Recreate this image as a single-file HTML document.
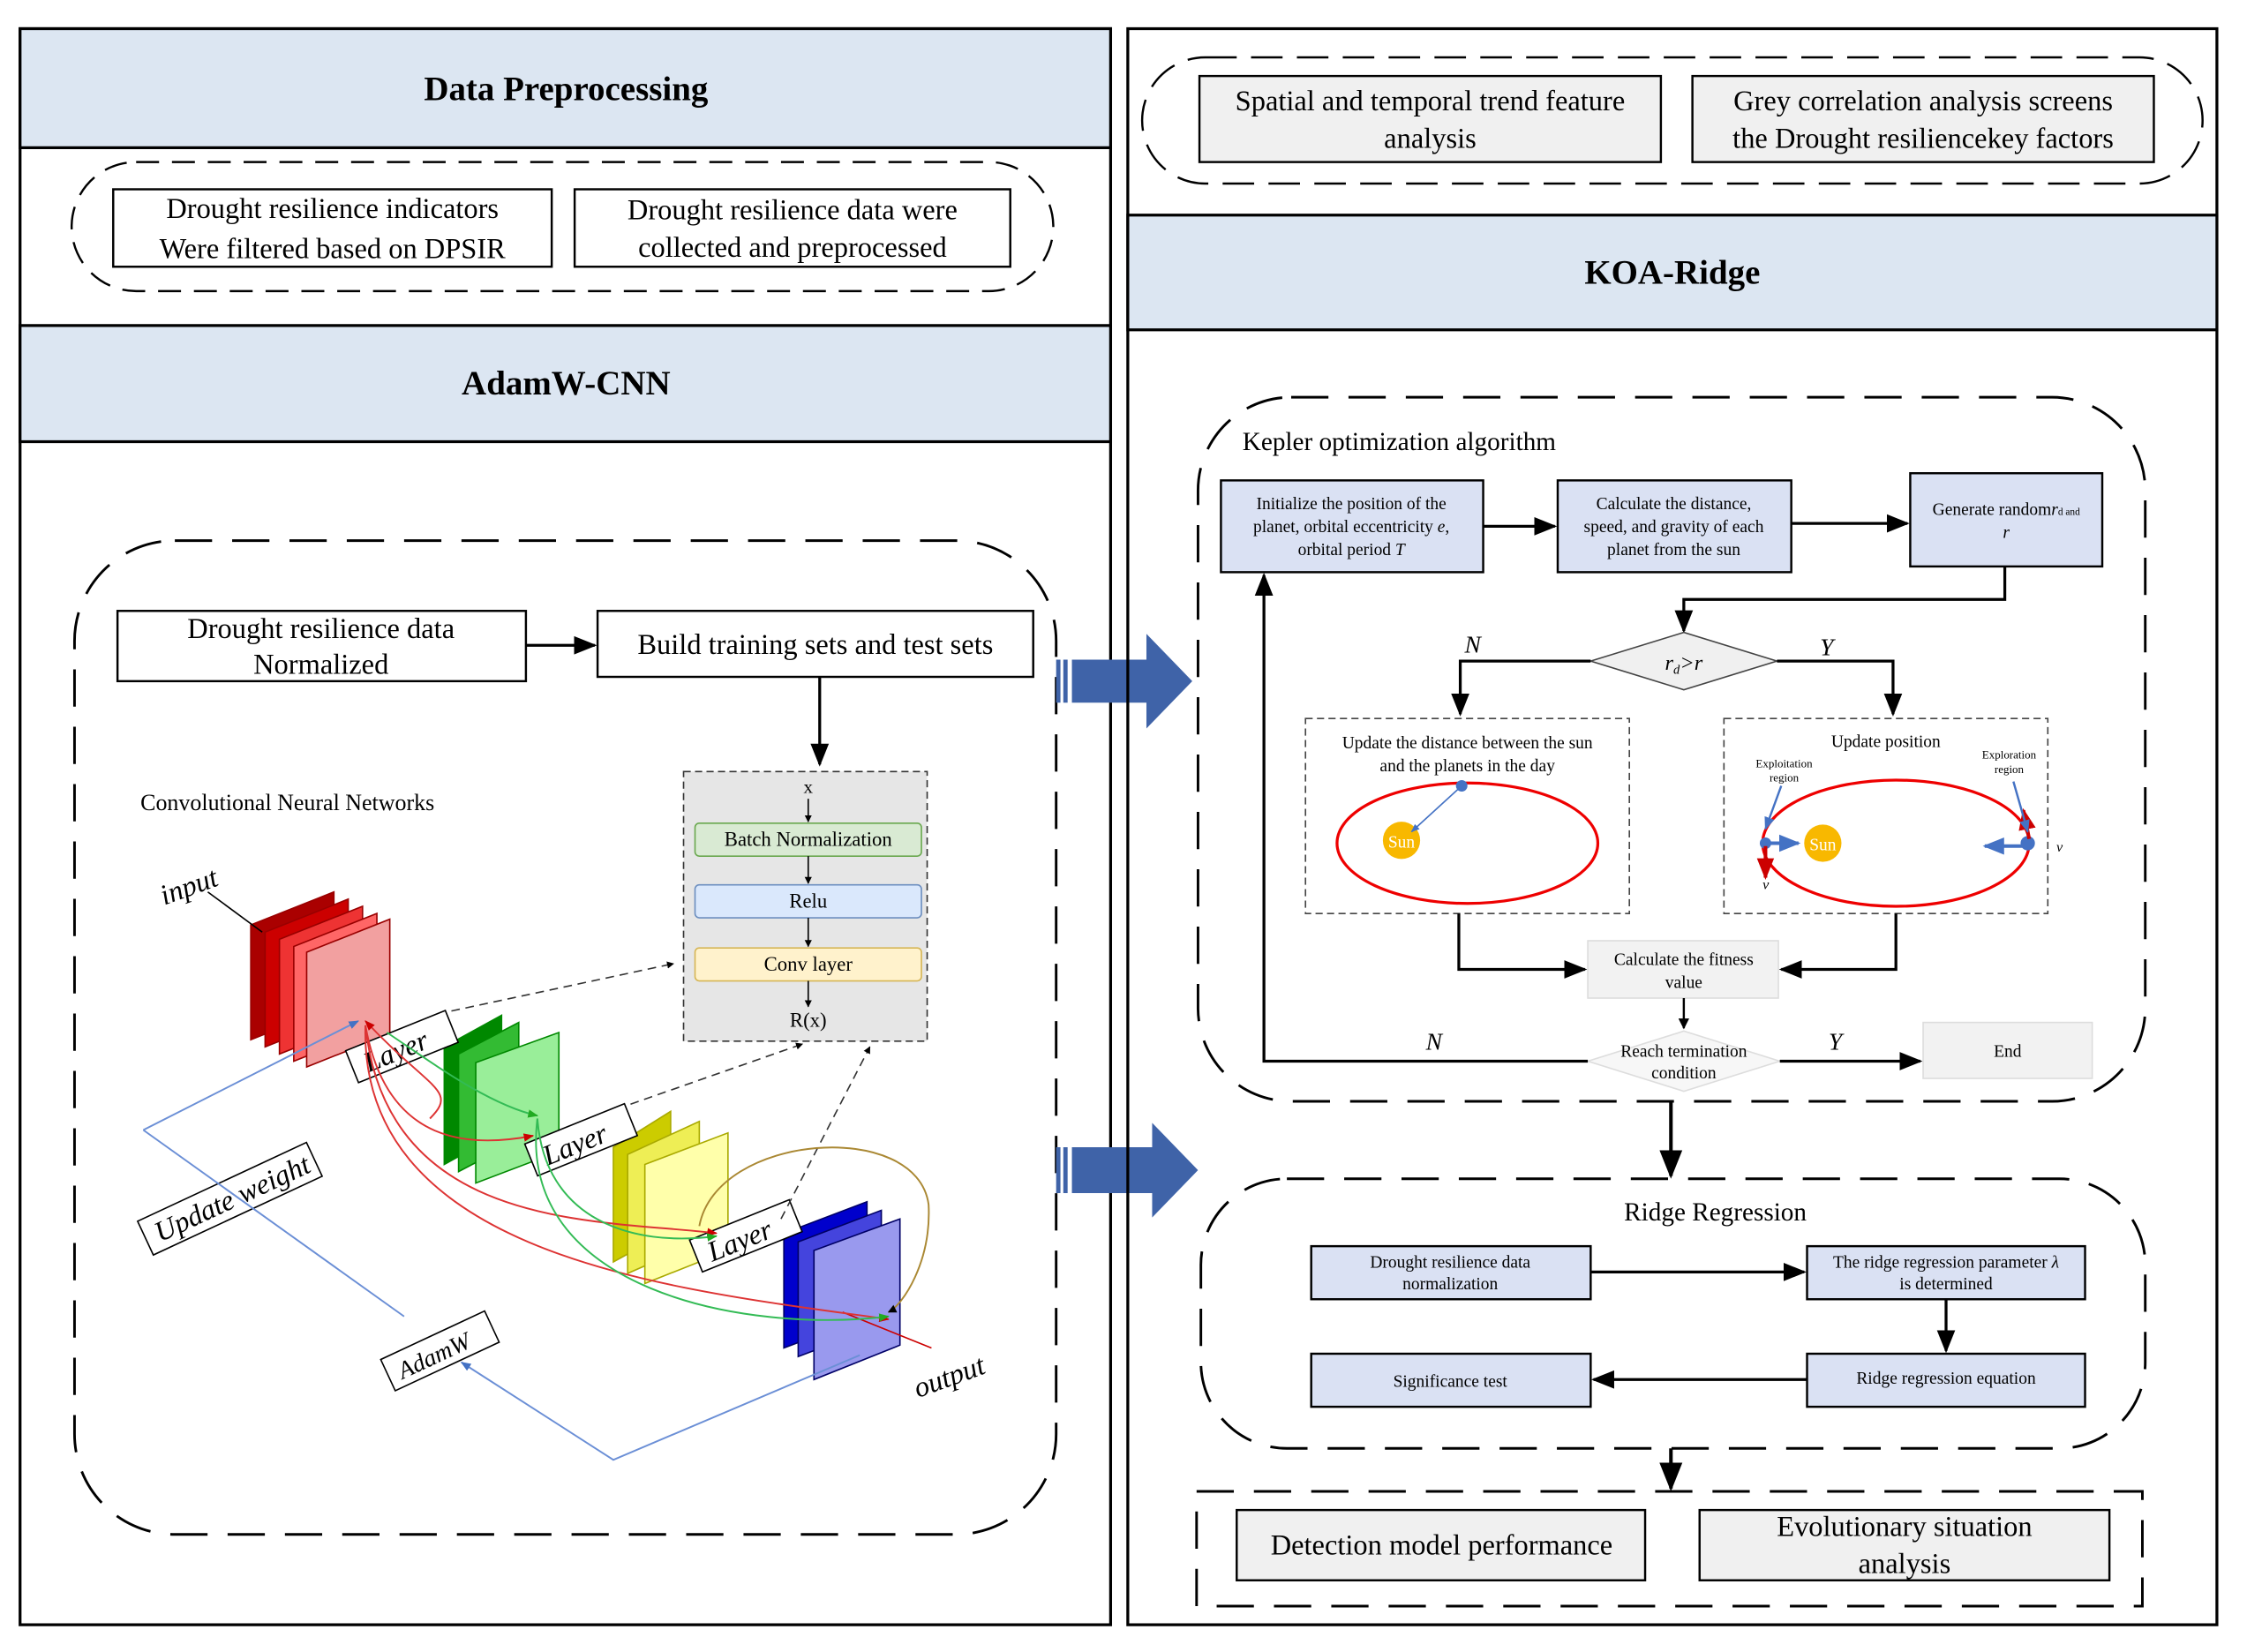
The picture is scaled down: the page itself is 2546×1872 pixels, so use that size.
<!DOCTYPE html>
<html><head><meta charset="utf-8"><style>
html,body{margin:0;padding:0;background:#fff}
svg{display:block}
text{font-family:"Liberation Serif",serif;fill:#000}
</style></head><body>
<svg width="2546" height="1872" viewBox="0 0 1568 1152" preserveAspectRatio="none" xmlns="http://www.w3.org/2000/svg">
<defs>
<marker id="a" viewBox="0 0 10 10" refX="9" refY="5" markerWidth="5" markerHeight="5" orient="auto"><path d="M0,0L10,5L0,10z" fill="#000"/></marker>
<marker id="s" viewBox="0 0 10 10" refX="9" refY="5" markerWidth="8" markerHeight="8" orient="auto"><path d="M0,1L10,5L0,9z" fill="#000"/></marker>
<marker id="bl" viewBox="0 0 10 10" refX="9" refY="5" markerWidth="6" markerHeight="6" orient="auto"><path d="M0,1L10,5L0,9z" fill="#4472c4"/></marker>
<marker id="rd" viewBox="0 0 10 10" refX="9" refY="5" markerWidth="6" markerHeight="6" orient="auto"><path d="M0,1L10,5L0,9z" fill="#c00"/></marker>
<marker id="gr" viewBox="0 0 10 10" refX="9" refY="5" markerWidth="6" markerHeight="6" orient="auto"><path d="M0,1L10,5L0,9z" fill="#2a2"/></marker>
</defs>
<!-- LEFT PANEL -->
<rect x="14" y="20" width="761" height="1113" fill="#fff" stroke="#000" stroke-width="2"/>
<rect x="14" y="20" width="761" height="83" fill="#dce6f2" stroke="#000" stroke-width="2"/>
<text x="395" y="70" font-size="24" font-weight="bold" text-anchor="middle">Data Preprocessing</text>
<rect x="14" y="227" width="761" height="81" fill="#dce6f2" stroke="#000" stroke-width="2"/>
<text x="395" y="275" font-size="24" font-weight="bold" text-anchor="middle">AdamW-CNN</text>
<rect x="50" y="113" width="685" height="90" rx="45" fill="none" stroke="#000" stroke-width="1.5" stroke-dasharray="16,9"/>
<rect x="79" y="132" width="306" height="54" fill="#fff" stroke="#000" stroke-width="1.5"/>
<text x="232" y="152" font-size="20" text-anchor="middle">Drought resilience indicators</text>
<text x="232" y="180" font-size="20" text-anchor="middle">Were filtered based on DPSIR</text>
<rect x="401" y="132" width="304" height="54" fill="#fff" stroke="#000" stroke-width="1.5"/>
<text x="553" y="153" font-size="20" text-anchor="middle">Drought resilience data were</text>
<text x="553" y="179" font-size="20" text-anchor="middle">collected and preprocessed</text>
<rect x="52" y="377" width="685" height="693" rx="70" fill="none" stroke="#000" stroke-width="1.8" stroke-dasharray="26,14"/>
<rect x="82" y="426" width="285" height="49" fill="#fff" stroke="#000" stroke-width="1.5"/>
<text x="224" y="445" font-size="20" text-anchor="middle">Drought resilience data</text>
<text x="224" y="470" font-size="20" text-anchor="middle">Normalized</text>
<line x1="367" y1="450" x2="415" y2="450" stroke="#000" stroke-width="2" marker-end="url(#s)"/>
<rect x="417" y="426" width="304" height="46" fill="#fff" stroke="#000" stroke-width="1.5"/>
<text x="569" y="456" font-size="20" text-anchor="middle">Build training sets and test sets</text>
<line x1="572" y1="472" x2="572" y2="533" stroke="#000" stroke-width="2" marker-end="url(#s)"/>
<text x="98" y="565" font-size="16">Convolutional Neural Networks</text>
<rect x="477" y="538" width="170" height="188" fill="#e6e6e6" stroke="#333" stroke-dasharray="5,3"/>
<text x="564" y="553" font-size="13" text-anchor="middle">x</text>
<line x1="564" y1="557" x2="564" y2="573" stroke="#000" marker-end="url(#a)"/>
<rect x="485" y="574" width="158" height="23" rx="3" fill="#d9ead3" stroke="#6aa84f"/>
<text x="564" y="590" font-size="14" text-anchor="middle">Batch Normalization</text>
<line x1="564" y1="597" x2="564" y2="616" stroke="#000" marker-end="url(#a)"/>
<rect x="485" y="617" width="158" height="23" rx="3" fill="#dae8fc" stroke="#6c8ebf"/>
<text x="564" y="633" font-size="14" text-anchor="middle">Relu</text>
<line x1="564" y1="640" x2="564" y2="660" stroke="#000" marker-end="url(#a)"/>
<rect x="485" y="661" width="158" height="23" rx="3" fill="#fff2cc" stroke="#d6b656"/>
<text x="564" y="677" font-size="14" text-anchor="middle">Conv layer</text>
<line x1="564" y1="684" x2="564" y2="702" stroke="#000" marker-end="url(#a)"/>
<text x="564" y="716" font-size="14" text-anchor="middle">R(x)</text>
<!-- CNN blocks -->
<g stroke="#900" stroke-width="1">
<polygon points="175,645 233,622 233,702 175,725" fill="#a00"/>
<polygon points="185,650 243,627 243,707 185,730" fill="#c00"/>
<polygon points="195,655 253,632 253,712 195,735" fill="#e33"/>
<polygon points="205,660 263,637 263,717 205,740" fill="#f66"/>
<polygon points="214,664 272,641 272,721 214,744" fill="#f2a0a0"/>
</g>
<g stroke="#080">
<polygon points="310,730 350,708 350,790 310,812" fill="#080"/>
<polygon points="320,735 362,713 362,795 320,817" fill="#3b3"/>
<polygon points="332,741 390,720 390,803 332,825" fill="#9e9"/>
</g>
<g stroke="#aa0">
<polygon points="428,800 468,775 468,858 428,880" fill="#cc0"/>
<polygon points="438,805 488,782 488,866 438,888" fill="#ee5"/>
<polygon points="450,812 508,790 508,872 450,895" fill="#ffa"/>
</g>
<g stroke="#006">
<polygon points="547,860 605,838 605,918 547,940" fill="#00c"/>
<polygon points="557,866 615,844 615,924 557,946" fill="#44d"/>
<polygon points="568,872 628,850 628,938 568,962" fill="#99e"/>
</g>
<line x1="145" y1="622" x2="183" y2="650" stroke="#000"/>
<text x="110" y="625" font-size="20" font-style="italic" transform="rotate(-20 130 615)">input</text>
<line x1="588" y1="915" x2="650" y2="940" stroke="#c00"/>
<text x="635" y="967" font-size="20" font-style="italic" transform="rotate(-20 660 955)">output</text>
<g font-size="20" font-style="italic">
<g transform="rotate(-22 280 730)"><rect x="243" y="718" width="75" height="24" fill="#fff" stroke="#000"/><text x="252" y="738">Layer</text></g>
<g transform="rotate(-22 405 795)"><rect x="368" y="783" width="75" height="24" fill="#fff" stroke="#000"/><text x="377" y="803">Layer</text></g>
<g transform="rotate(-22 520 862)"><rect x="483" y="850" width="75" height="24" fill="#fff" stroke="#000"/><text x="492" y="870">Layer</text></g>
<g transform="rotate(-25 160 835)"><rect x="95" y="823" width="130" height="26" fill="#fff" stroke="#000"/><text x="103" y="843">Update weight</text></g>
<g transform="rotate(-25 307 942)"><rect x="267" y="930" width="80" height="24" fill="#fff" stroke="#000"/><text x="275" y="949" font-size="17">AdamW</text></g>
</g>
<g fill="none" stroke-dasharray="6,4" stroke="#333" marker-end="url(#a)">
<path d="M315,705 L470,672"/><path d="M440,770 L560,728"/><path d="M545,850 L607,730"/>
</g>
<g fill="none" stroke="#6b8fd6" stroke-width="1.2">
<path d="M100,788 L250,712" marker-end="url(#bl)"/>
<path d="M100,788 L282,918"/>
<path d="M600,945 L428,1018 L322,950" marker-end="url(#bl)"/>
</g>
<g fill="none" stroke="#d33" stroke-width="1.2">
<path d="M255,715 C270,800 330,800 372,792" marker-end="url(#rd)"/>
<path d="M255,715 C270,860 420,850 500,860" marker-end="url(#rd)"/>
<path d="M255,715 C250,880 480,900 620,920" marker-end="url(#rd)"/>
<path d="M300,780 C320,760 300,760 255,712" marker-end="url(#rd)"/>
</g>
<g fill="none" stroke="#3b5" stroke-width="1.2">
<path d="M375,780 C380,850 440,870 500,862" marker-end="url(#gr)"/>
<path d="M375,780 C360,900 520,930 620,918" marker-end="url(#gr)"/>
<path d="M270,720 C300,740 340,770 375,778" marker-end="url(#gr)"/>
</g>
<path d="M488,855 C500,790 640,780 648,840 C650,880 630,910 620,915" fill="none" stroke="#a83" stroke-width="1.2" marker-end="url(#a)"/>
<!-- big arrows -->
<g fill="#3f63a8"><rect x="737" y="460" width="3" height="30"/><rect x="742" y="460" width="3" height="30"/><polygon points="748,460 800,460 800,442 832,475 800,508 800,490 748,490"/>
<rect x="737" y="800" width="3" height="32"/><rect x="742" y="800" width="3" height="32"/><polygon points="748,800 804,800 804,783 836,816 804,849 804,832 748,832"/></g>
<!-- RIGHT PANEL -->
<rect x="787" y="20" width="760" height="1113" fill="none" stroke="#000" stroke-width="2"/>
<rect x="787" y="150" width="760" height="80" fill="#dce6f2" stroke="#000" stroke-width="2"/>
<text x="1167" y="198" font-size="24" font-weight="bold" text-anchor="middle">KOA-Ridge</text>
<rect x="797" y="40" width="740" height="88" rx="44" fill="none" stroke="#000" stroke-width="1.5" stroke-dasharray="22,10"/>
<rect x="837" y="53" width="322" height="60" fill="#f0f0f0" stroke="#000" stroke-width="1.5"/>
<text x="998" y="77" font-size="20" text-anchor="middle">Spatial and temporal trend feature</text>
<text x="998" y="103" font-size="20" text-anchor="middle">analysis</text>
<rect x="1181" y="53" width="322" height="60" fill="#f0f0f0" stroke="#000" stroke-width="1.5"/>
<text x="1342" y="77" font-size="20" text-anchor="middle">Grey correlation analysis screens</text>
<text x="1342" y="103" font-size="20" text-anchor="middle">the Drought resiliencekey  factors</text>
<rect x="836" y="277" width="661" height="491" rx="65" fill="none" stroke="#000" stroke-width="1.8" stroke-dasharray="26,14"/>
<text x="867" y="314" font-size="18">Kepler optimization algorithm</text>
<g font-size="12" text-anchor="middle">
<rect x="852" y="335" width="183" height="64" fill="#dae1f3" stroke="#000" stroke-width="1.5"/>
<text x="943" y="355">Initialize the position of the</text>
<text x="943" y="371">planet, orbital eccentricity <tspan font-style="italic">e</tspan>,</text>
<text x="943" y="387">orbital period <tspan font-style="italic">T</tspan></text>
<rect x="1087" y="335" width="163" height="64" fill="#dae1f3" stroke="#000" stroke-width="1.5"/>
<text x="1168" y="355">Calculate the distance,</text>
<text x="1168" y="371">speed, and gravity of each</text>
<text x="1168" y="387">planet from the sun</text>
<rect x="1333" y="330" width="134" height="65" fill="#dae1f3" stroke="#000" stroke-width="1.5"/>
<text x="1400" y="359">Generate random<tspan font-style="italic">r</tspan><tspan font-size="7">d and</tspan></text>
<text x="1400" y="375" font-style="italic">r</text>
</g>
<line x1="1035" y1="367" x2="1085" y2="367" stroke="#000" stroke-width="2" marker-end="url(#s)"/>
<line x1="1250" y1="365" x2="1331" y2="365" stroke="#000" stroke-width="2" marker-end="url(#s)"/>
<polyline points="1399,395 1399,418 1175,418 1175,440" fill="none" stroke="#000" stroke-width="2" marker-end="url(#s)"/>
<polygon points="1110,461 1175,441 1240,461 1175,481" fill="#f0f0f0" stroke="#444"/>
<text x="1175" y="467" font-size="15" text-anchor="middle" font-style="italic">r<tspan font-size="9" dy="3">d</tspan><tspan dy="-3">&gt;r</tspan></text>
<polyline points="1110,461 1019,461 1019,498" fill="none" stroke="#000" stroke-width="2" marker-end="url(#s)"/>
<polyline points="1240,461 1321,461 1321,498" fill="none" stroke="#000" stroke-width="2" marker-end="url(#s)"/>
<text x="1022" y="455" font-size="17" font-style="italic">N</text>
<text x="1270" y="457" font-size="17" font-style="italic">Y</text>
<rect x="911" y="501" width="226" height="136" fill="#fff" stroke="#444" stroke-dasharray="5,3"/>
<text x="1024" y="522" font-size="12" text-anchor="middle">Update the distance between the sun</text>
<text x="1024" y="538" font-size="12" text-anchor="middle">and the planets in the day</text>
<ellipse cx="1024" cy="588" rx="91" ry="42" fill="none" stroke="#e00" stroke-width="2"/>
<circle cx="978" cy="586" r="13" fill="#f8b800"/><text x="978" y="591" font-size="12" text-anchor="middle" style="fill:#fff">Sun</text>
<line x1="1020" y1="548" x2="985" y2="580" stroke="#4472c4" marker-end="url(#bl)"/><circle cx="1020" cy="548" r="4" fill="#4472c4"/>
<rect x="1203" y="501" width="226" height="136" fill="#fff" stroke="#444" stroke-dasharray="5,3"/>
<text x="1316" y="521" font-size="12" text-anchor="middle">Update position</text>
<text x="1245" y="535" font-size="8" text-anchor="middle">Exploitation</text><text x="1245" y="545" font-size="8" text-anchor="middle">region</text>
<text x="1402" y="529" font-size="8" text-anchor="middle">Exploration</text><text x="1402" y="539" font-size="8" text-anchor="middle">region</text>
<ellipse cx="1323" cy="588" rx="93" ry="44" fill="none" stroke="#e00" stroke-width="2"/>
<circle cx="1272" cy="588" r="13" fill="#f8b800"/><text x="1272" y="593" font-size="12" text-anchor="middle" style="fill:#fff">Sun</text>
<circle cx="1232" cy="588" r="4" fill="#4472c4"/><circle cx="1415" cy="588" r="5" fill="#4472c4"/>
<line x1="1232" y1="588" x2="1255" y2="588" stroke="#4472c4" stroke-width="2.5" marker-end="url(#bl)"/>
<line x1="1412" y1="590" x2="1385" y2="590" stroke="#4472c4" stroke-width="2.5" marker-end="url(#bl)"/>
<line x1="1232" y1="590" x2="1232" y2="612" stroke="#c00" stroke-width="2.5" marker-end="url(#rd)"/>
<line x1="1416" y1="585" x2="1412" y2="565" stroke="#c00" stroke-width="2.5" marker-end="url(#rd)"/>
<line x1="1243" y1="548" x2="1232" y2="578" stroke="#4472c4" stroke-width="1.5" marker-end="url(#bl)"/>
<line x1="1405" y1="545" x2="1415" y2="580" stroke="#4472c4" stroke-width="1.5" marker-end="url(#bl)"/>
<text x="1435" y="594" font-size="10" font-style="italic">v</text><text x="1230" y="620" font-size="10" font-style="italic">v</text>
<polyline points="1018,637 1018,676 1106,676" fill="none" stroke="#000" stroke-width="2" marker-end="url(#s)"/>
<polyline points="1323,637 1323,676 1243,676" fill="none" stroke="#000" stroke-width="2" marker-end="url(#s)"/>
<rect x="1108" y="656" width="133" height="40" fill="#f2f2f2" stroke="#ddd"/>
<text x="1175" y="673" font-size="12" text-anchor="middle">Calculate the fitness</text>
<text x="1175" y="689" font-size="12" text-anchor="middle">value</text>
<line x1="1175" y1="696" x2="1175" y2="717" stroke="#000" stroke-width="1.5" marker-end="url(#a)"/>
<polygon points="1108,740 1175,719 1242,740 1175,761" fill="#f7f7f7" stroke="#ddd"/>
<text x="1175" y="737" font-size="12" text-anchor="middle">Reach termination</text>
<text x="1175" y="752" font-size="12" text-anchor="middle">condition</text>
<polyline points="1108,740 882,740 882,401" fill="none" stroke="#000" stroke-width="2" marker-end="url(#s)"/>
<line x1="1242" y1="740" x2="1340" y2="740" stroke="#000" stroke-width="2" marker-end="url(#s)"/>
<text x="995" y="732" font-size="17" font-style="italic">N</text>
<text x="1276" y="732" font-size="17" font-style="italic">Y</text>
<rect x="1342" y="713" width="118" height="39" fill="#f2f2f2" stroke="#ddd"/>
<text x="1401" y="737" font-size="12" text-anchor="middle">End</text>
<line x1="1166" y1="768" x2="1166" y2="820" stroke="#000" stroke-width="2.5" marker-end="url(#s)"/>
<rect x="838" y="822" width="659" height="188" rx="60" fill="none" stroke="#000" stroke-width="1.8" stroke-dasharray="26,14"/>
<text x="1197" y="851" font-size="18" text-anchor="middle">Ridge Regression</text>
<g font-size="12" text-anchor="middle">
<rect x="915" y="869" width="195" height="37" fill="#dae1f3" stroke="#000" stroke-width="1.5"/>
<text x="1012" y="884">Drought resilience data</text><text x="1012" y="899">normalization</text>
<rect x="1261" y="869" width="194" height="37" fill="#dae1f3" stroke="#000" stroke-width="1.5"/>
<text x="1358" y="884">The ridge regression parameter <tspan font-style="italic">λ</tspan></text><text x="1358" y="899">is determined</text>
<rect x="915" y="944" width="195" height="37" fill="#dae1f3" stroke="#000" stroke-width="1.5"/>
<text x="1012" y="967">Significance test</text>
<rect x="1261" y="944" width="194" height="37" fill="#dae1f3" stroke="#000" stroke-width="1.5"/>
<text x="1358" y="965">Ridge regression equation</text>
</g>
<line x1="1110" y1="887" x2="1259" y2="887" stroke="#000" stroke-width="2" marker-end="url(#s)"/>
<line x1="1358" y1="906" x2="1358" y2="942" stroke="#000" stroke-width="2" marker-end="url(#s)"/>
<line x1="1261" y1="962" x2="1112" y2="962" stroke="#000" stroke-width="2" marker-end="url(#s)"/>
<line x1="1166" y1="1010" x2="1166" y2="1038" stroke="#000" stroke-width="2.5" marker-end="url(#s)"/>
<rect x="835" y="1040" width="660" height="80" fill="none" stroke="#000" stroke-width="1.8" stroke-dasharray="26,14"/>
<rect x="863" y="1053" width="285" height="49" fill="#f0f0f0" stroke="#000" stroke-width="1.5"/>
<text x="1006" y="1084" font-size="20" text-anchor="middle">Detection model performance</text>
<rect x="1186" y="1053" width="286" height="49" fill="#f0f0f0" stroke="#000" stroke-width="1.5"/>
<text x="1329" y="1071" font-size="20" text-anchor="middle">Evolutionary situation</text>
<text x="1329" y="1097" font-size="20" text-anchor="middle">analysis</text>
</svg>
</body></html>
